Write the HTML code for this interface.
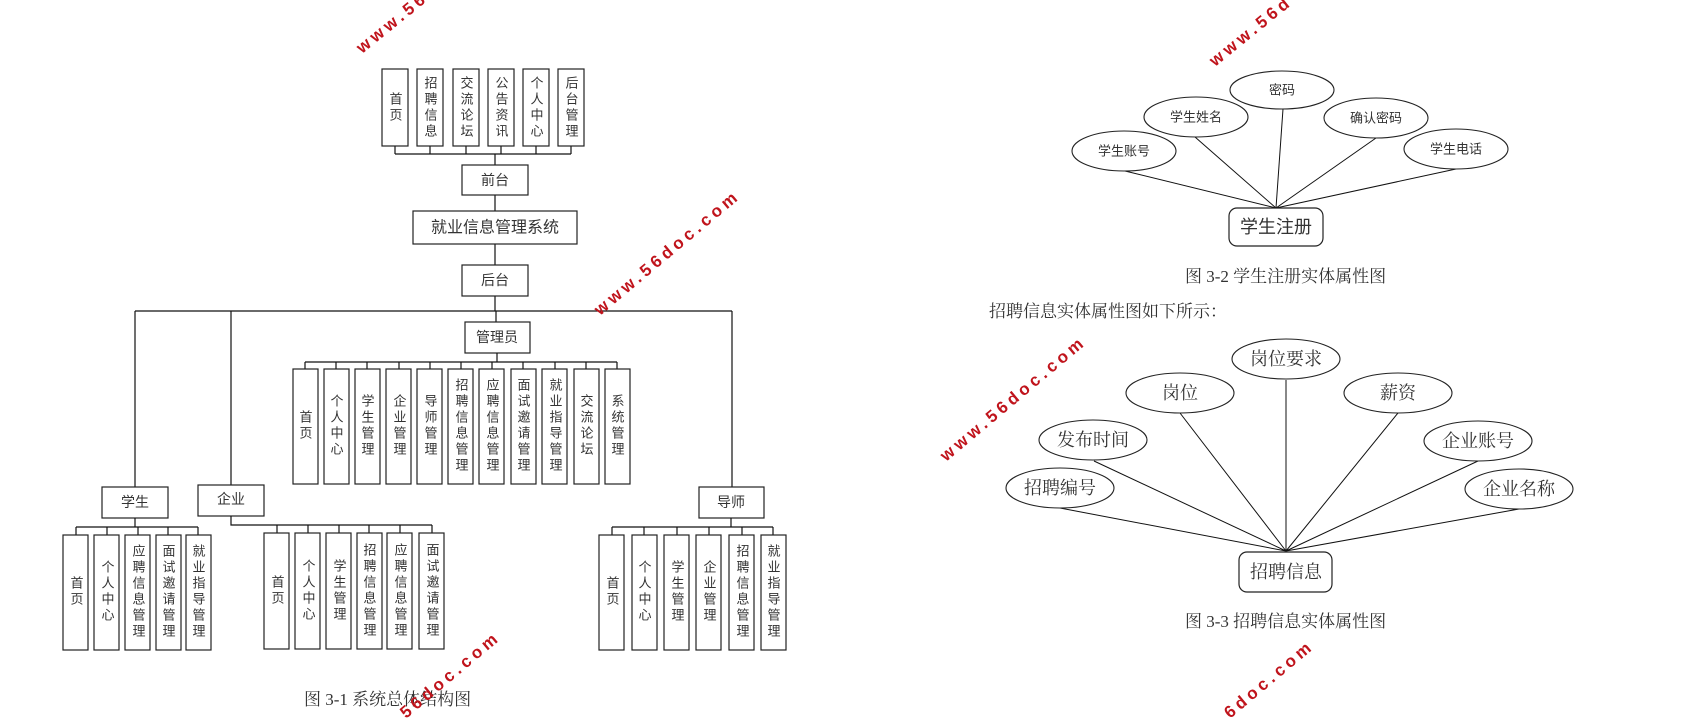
<!DOCTYPE html>
<html><head><meta charset="utf-8"><style>
html,body{margin:0;padding:0;background:#fff;width:1707px;height:721px;overflow:hidden}
svg{display:block;overflow:hidden}
.b{fill:#fff;stroke:#222;stroke-width:1.2}
.l{stroke:#111;stroke-width:1.2;fill:none}
.v{font-family:"Liberation Sans","Noto Sans CJK SC",sans-serif;font-size:13px;fill:#333;writing-mode:vertical-rl;text-anchor:middle;letter-spacing:3px}
.h{font-family:"Liberation Sans","Noto Sans CJK SC",sans-serif;font-size:14px;fill:#333;text-anchor:middle;dominant-baseline:central}
.s{font-family:"Liberation Serif","Noto Serif CJK SC",serif;fill:#333}
.e{fill:#fff;stroke:#222;stroke-width:1.1}
.w{font-family:"Liberation Sans",sans-serif;font-weight:bold;font-size:17px;fill:#c0141c;letter-spacing:4px}
</style></head><body>
<svg width="1707" height="721" viewBox="0 0 1707 721" xmlns="http://www.w3.org/2000/svg">
<g class="l">
<path d="M395 146V154M430 146V154M466 146V154M501 146V154M536 146V154M571 146V154M395 154H571M495 154V165M495 195V211M495 244V265M495 296V311M135 311H732M496 311V322M135 311V487M231 311V485M732 311V487"/>
</g>
<rect class="b" x="382" y="69" width="26" height="77"/>
<rect class="b" x="417" y="69" width="26" height="77"/>
<rect class="b" x="453" y="69" width="26" height="77"/>
<rect class="b" x="488" y="69" width="26" height="77"/>
<rect class="b" x="523" y="69" width="26" height="77"/>
<rect class="b" x="558" y="69" width="26" height="77"/>
<text class="v" x="395" y="108">首页</text>
<text class="v" x="430" y="108">招聘信息</text>
<text class="v" x="466" y="108">交流论坛</text>
<text class="v" x="501" y="108">公告资讯</text>
<text class="v" x="536" y="108">个人中心</text>
<text class="v" x="571" y="108">后台管理</text>
<rect class="b" x="462" y="165" width="66" height="30"/>
<text class="h" x="495" y="180">前台</text>
<rect class="b" x="413" y="211" width="164" height="33"/>
<text class="h" x="495" y="228" style="font-size:16px">就业信息管理系统</text>
<rect class="b" x="462" y="265" width="66" height="31"/>
<text class="h" x="495" y="280">后台</text>
<rect class="b" x="465" y="322" width="65" height="31"/>
<text class="h" x="497" y="337">管理员</text>
<g class="l"><path d="M497 353V362M305 362H617M305 362V369M336 362V369M367 362V369M399 362V369M430 362V369M461 362V369M492 362V369M523 362V369M555 362V369M586 362V369M617 362V369"/></g>
<rect class="b" x="293" y="369" width="25" height="115"/>
<rect class="b" x="324" y="369" width="25" height="115"/>
<rect class="b" x="355" y="369" width="25" height="115"/>
<rect class="b" x="386" y="369" width="25" height="115"/>
<rect class="b" x="417" y="369" width="25" height="115"/>
<rect class="b" x="448" y="369" width="25" height="115"/>
<rect class="b" x="479" y="369" width="25" height="115"/>
<rect class="b" x="511" y="369" width="25" height="115"/>
<rect class="b" x="542" y="369" width="25" height="115"/>
<rect class="b" x="574" y="369" width="25" height="115"/>
<rect class="b" x="605" y="369" width="25" height="115"/>
<text class="v" x="305" y="426">首页</text>
<text class="v" x="336" y="426">个人中心</text>
<text class="v" x="367" y="426">学生管理</text>
<text class="v" x="399" y="426">企业管理</text>
<text class="v" x="430" y="426">导师管理</text>
<text class="v" x="461" y="426">招聘信息管理</text>
<text class="v" x="492" y="426">应聘信息管理</text>
<text class="v" x="523" y="426">面试邀请管理</text>
<text class="v" x="555" y="426">就业指导管理</text>
<text class="v" x="586" y="426">交流论坛</text>
<text class="v" x="617" y="426">系统管理</text>
<rect class="b" x="102" y="487" width="66" height="31"/>
<text class="h" x="135" y="502">学生</text>
<g class="l"><path d="M135 518V527M76 527H198M76 527V535M107 527V535M138 527V535M168 527V535M198 527V535"/></g>
<rect class="b" x="63" y="535" width="25" height="115"/>
<rect class="b" x="94" y="535" width="25" height="115"/>
<rect class="b" x="125" y="535" width="25" height="115"/>
<rect class="b" x="156" y="535" width="25" height="115"/>
<rect class="b" x="186" y="535" width="25" height="115"/>
<text class="v" x="76" y="592">首页</text>
<text class="v" x="107" y="592">个人中心</text>
<text class="v" x="138" y="592">应聘信息管理</text>
<text class="v" x="168" y="592">面试邀请管理</text>
<text class="v" x="198" y="592">就业指导管理</text>
<rect class="b" x="198" y="485" width="66" height="31"/>
<text class="h" x="231" y="499">企业</text>
<g class="l"><path d="M231 516V525H432M277 525V533M308 525V533M339 525V533M369 525V533M400 525V533M432 525V533"/></g>
<rect class="b" x="264" y="533" width="25" height="116"/>
<rect class="b" x="295" y="533" width="25" height="116"/>
<rect class="b" x="326" y="533" width="25" height="116"/>
<rect class="b" x="357" y="533" width="25" height="116"/>
<rect class="b" x="387" y="533" width="25" height="116"/>
<rect class="b" x="419" y="533" width="25" height="116"/>
<text class="v" x="277" y="591">首页</text>
<text class="v" x="308" y="591">个人中心</text>
<text class="v" x="339" y="591">学生管理</text>
<text class="v" x="369" y="591">招聘信息管理</text>
<text class="v" x="400" y="591">应聘信息管理</text>
<text class="v" x="432" y="591">面试邀请管理</text>
<rect class="b" x="699" y="487" width="65" height="31"/>
<text class="h" x="731" y="502">导师</text>
<g class="l"><path d="M731 518V527M612 527H773M612 527V535M644 527V535M677 527V535M709 527V535M742 527V535M773 527V535"/></g>
<rect class="b" x="599" y="535" width="25" height="115"/>
<rect class="b" x="632" y="535" width="25" height="115"/>
<rect class="b" x="664" y="535" width="25" height="115"/>
<rect class="b" x="696" y="535" width="25" height="115"/>
<rect class="b" x="729" y="535" width="25" height="115"/>
<rect class="b" x="761" y="535" width="25" height="115"/>
<text class="v" x="612" y="592">首页</text>
<text class="v" x="644" y="592">个人中心</text>
<text class="v" x="677" y="592">学生管理</text>
<text class="v" x="709" y="592">企业管理</text>
<text class="v" x="742" y="592">招聘信息管理</text>
<text class="v" x="773" y="592">就业指导管理</text>
<text class="s" x="304" y="705" style="font-size:17px">图 3-1  系统总体结构图</text>

<g class="l" style="stroke-width:1">
<path d="M1125 171L1276 208M1195 137L1276 208M1283 109L1276 208M1376 138L1276 208M1456 169L1276 208"/>
</g>
<ellipse class="e" cx="1124" cy="151" rx="52" ry="20"/>
<ellipse class="e" cx="1196" cy="117" rx="52" ry="20"/>
<ellipse class="e" cx="1282" cy="90" rx="52" ry="19"/>
<ellipse class="e" cx="1376" cy="118" rx="52" ry="20"/>
<ellipse class="e" cx="1456" cy="149" rx="52" ry="20"/>
<text class="h" x="1124" y="151" style="font-size:13px">学生账号</text>
<text class="h" x="1196" y="117" style="font-size:13px">学生姓名</text>
<text class="h" x="1282" y="90" style="font-size:13px">密码</text>
<text class="h" x="1376" y="118" style="font-size:13px">确认密码</text>
<text class="h" x="1456" y="149" style="font-size:13px">学生电话</text>
<rect class="b" x="1229" y="208" width="94" height="38" rx="8"/>
<text class="h" x="1276" y="227" style="font-size:18px">学生注册</text>
<text class="s" x="1185" y="282" style="font-size:17px">图 3-2 学生注册实体属性图</text>
<text class="s" x="989" y="317" style="font-size:17px">招聘信息实体属性图如下所示：</text>

<g class="l" style="stroke-width:1">
<path d="M1060 508L1286 551M1094 461L1286 551M1180 413L1286 551M1286 380L1286 551M1398 413L1286 551M1478 461L1286 551M1519 509L1286 551"/>
</g>
<ellipse class="e" cx="1060" cy="488" rx="54" ry="20"/>
<ellipse class="e" cx="1093" cy="440" rx="54" ry="20"/>
<ellipse class="e" cx="1180" cy="393" rx="54" ry="20"/>
<ellipse class="e" cx="1286" cy="359" rx="54" ry="20"/>
<ellipse class="e" cx="1398" cy="393" rx="54" ry="20"/>
<ellipse class="e" cx="1478" cy="441" rx="54" ry="20"/>
<ellipse class="e" cx="1519" cy="489" rx="54" ry="20"/>
<g class="s" style="font-size:18px;text-anchor:middle;dominant-baseline:central">
<text x="1060" y="488">招聘编号</text>
<text x="1093" y="440">发布时间</text>
<text x="1180" y="393">岗位</text>
<text x="1286" y="359">岗位要求</text>
<text x="1398" y="393">薪资</text>
<text x="1478" y="441">企业账号</text>
<text x="1519" y="489">企业名称</text>
</g>
<rect class="b" x="1239" y="552" width="93" height="40" rx="8"/>
<text class="s" x="1286" y="572" style="font-size:18px;text-anchor:middle;dominant-baseline:central">招聘信息</text>
<text class="s" x="1185" y="627" style="font-size:17px">图 3-3 招聘信息实体属性图</text>

<text class="w" transform="translate(362,54) rotate(-39)">www.56</text>
<text class="w" transform="translate(600,316) rotate(-40)">www.56doc.com</text>
<text class="w" transform="translate(406,719) rotate(-40)">56doc.com</text>
<text class="w" transform="translate(1215,67) rotate(-39)">www.56d</text>
<text class="w" transform="translate(946,462) rotate(-40)">www.56doc.com</text>
<text class="w" transform="translate(1230,719) rotate(-40)">6doc.com</text>
</svg>
</body></html>
